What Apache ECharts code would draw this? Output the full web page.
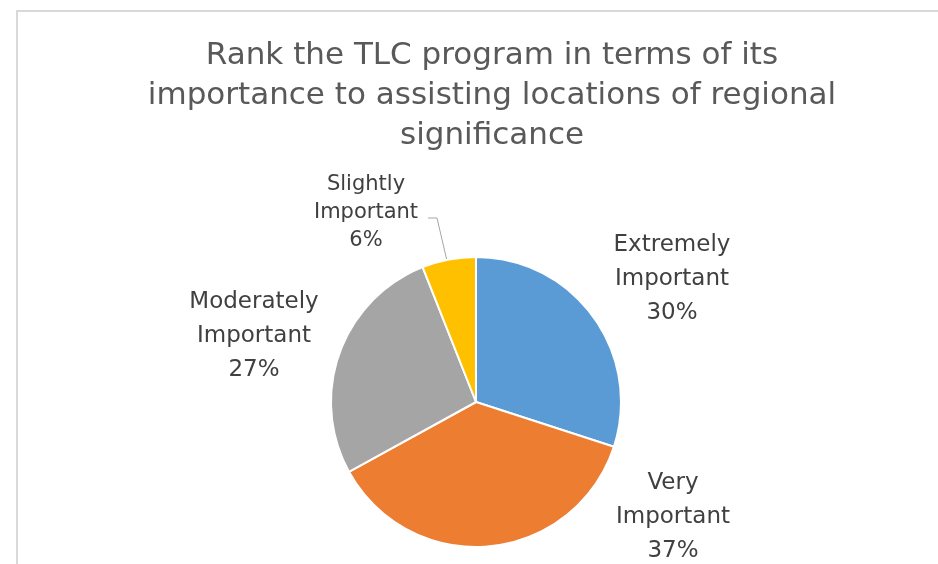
<!DOCTYPE html>
<html>
<head>
<meta charset="utf-8">
<script src="https://cdn.jsdelivr.net/npm/echarts@6/dist/echarts.min.js"></script>
<style>
  html, body { margin: 0; padding: 0; background: #fff; }
  #chart { width: 938px; height: 564px; }
</style>
</head>
<body>
<div id="chart"></div>
<script>
// data
var categories = ['Extremely\nImportant', 'Very\nImportant', 'Moderately\nImportant', 'Slightly\nImportant'];
var shares = [30, 37, 27, 6];
var colors = ['#5b9bd5', '#ed7d31', '#a5a5a5', '#ffc000'];

// where each label sits (label centre)
var labelPos = [
    {x: 672, y: 279},
    {x: 673, y: 517},
    {x: 254, y: 336},
    {x: 366, y: 213}
];

var pieData = [];
for (var i = 0; i < shares.length; i++) {
    var item = {name: categories[i], value: shares[i], itemStyle: {color: colors[i]}};
    if (i == 3) {
        item.label = {fontSize: 21, lineHeight: 28};
        item.labelLine = {show: true};
    }
    pieData.push(item);
}

var myChart = echarts.init(document.getElementById('chart'));
var option = {
    animation: false,
    title: {
        text: 'Rank the TLC program in terms of its\nimportance to assisting locations of regional\nsignificance',
        left: 487,
        top: 31,
        textAlign: 'center',
        textStyle: {
            fontFamily: 'DejaVu Sans',
            fontWeight: 'normal',
            fontSize: 31,
            lineHeight: 40,
            color: '#595959'
        }
    },
    graphic: [{
        type: 'rect',
        shape: {x: 17, y: 11, width: 1000, height: 1000},
        style: {fill: 'none', stroke: '#d9d9d9', lineWidth: 2},
        silent: true
    }],
    series: [{
        type: 'pie',
        center: [476, 402],
        radius: 145,
        startAngle: 90,
        clockwise: true,
        data: pieData,
        itemStyle: {borderColor: '#fff', borderWidth: 2},
        label: {
            formatter: '{b}\n{d}%',
            fontFamily: 'DejaVu Sans',
            fontSize: 23,
            lineHeight: 34,
            color: '#404040',
            align: 'center'
        },
        labelLine: {show: false, lineStyle: {color: '#a6a6a6', width: 1}},
        labelLayout: function (params) {
            var p = labelPos[params.dataIndex];
            var res = {x: p.x, y: p.y, align: 'center', verticalAlign: 'middle'};
            if (params.dataIndex == 3) {
                res.labelLinePoints = [[428, 218], [437, 218], [447, 261]];
            }
            return res;
        }
    }]
};
myChart.setOption(option);
</script>
</body>
</html>
